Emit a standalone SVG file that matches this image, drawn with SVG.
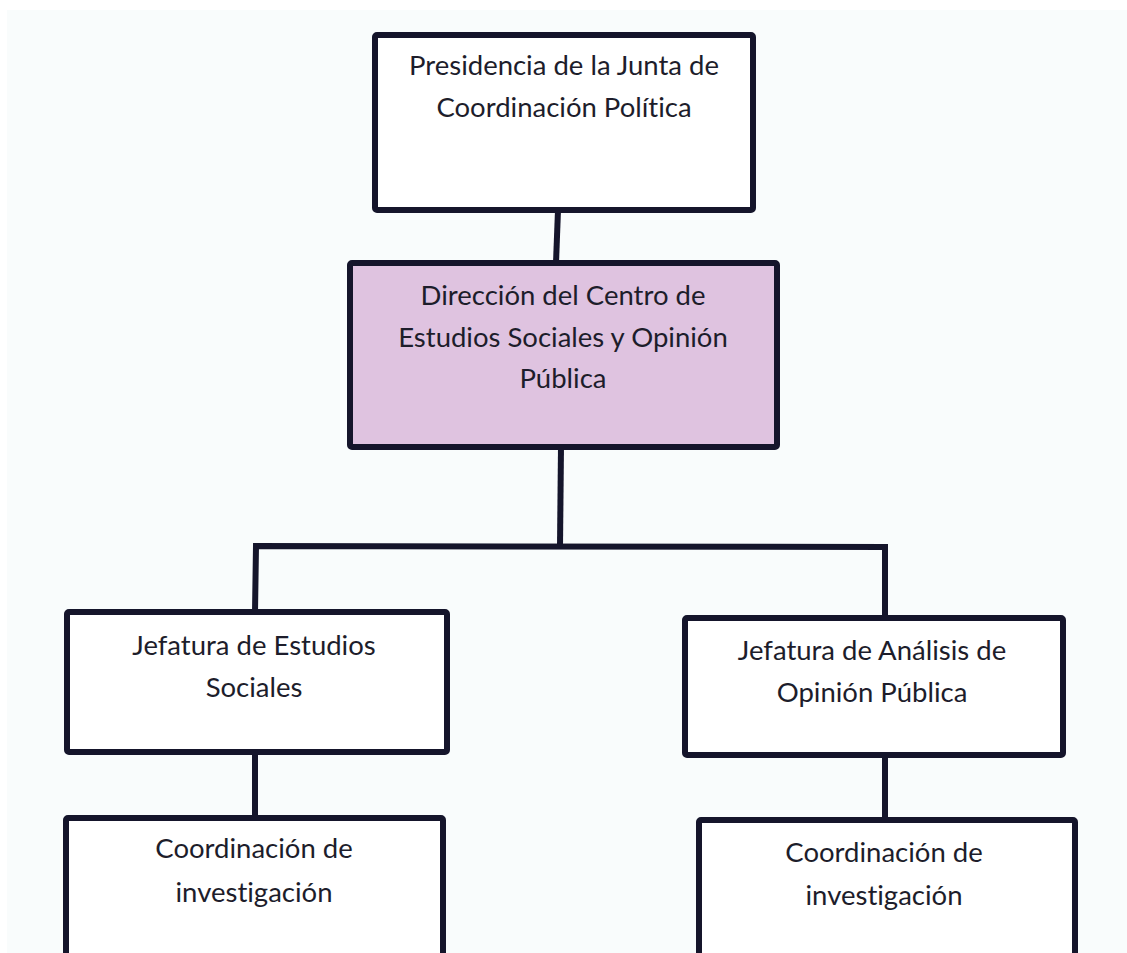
<svg xmlns="http://www.w3.org/2000/svg" width="1127" height="953" viewBox="0 0 1127 953">
<style>
.box{fill:#ffffff;stroke:#15152b;stroke-width:6;stroke-linejoin:round}
.pink{fill:#dfc3e0}
.lbl{font-family:Lato,"Open Sans","Liberation Sans",sans-serif;font-size:27.5px;fill:#1d1d2b;text-anchor:middle;font-variant-ligatures:none}
.con{fill:none;stroke:#15152b;stroke-width:6;stroke-linejoin:miter;stroke-linecap:butt}
</style>
<rect x="0" y="0" width="1127" height="953" fill="#ffffff"/>
<rect x="7" y="10" width="1120" height="943" fill="#f9fcfc"/>
<g id="connectors">
<path class="con" d="M558 210 L556 263"/>
<path class="con" d="M561 447 L560 546"/>
<path class="con" d="M255 612 L256 546 L885 547 L885 618"/>
<path class="con" d="M255 752 L255 818"/>
<path class="con" d="M885 755 L885 820"/>
</g>
<g id="n1">
<rect class="box" x="375" y="35" width="378" height="175" rx="2"/>
<text class="lbl" x="564" y="75">Presidencia de la Junta de</text>
<text class="lbl" x="564" y="117">Coordinación Política</text>
</g>
<g id="n2">
<rect class="box pink" x="350" y="263" width="427" height="184" rx="2"/>
<text class="lbl" x="563" y="305">Dirección del Centro de</text>
<text class="lbl" x="563" y="347">Estudios Sociales y Opinión</text>
<text class="lbl" x="563" y="388">Pública</text>
</g>
<g id="n3">
<rect class="box" x="67" y="612" width="380" height="140" rx="2"/>
<text class="lbl" x="254" y="655">Jefatura de Estudios</text>
<text class="lbl" x="254" y="697">Sociales</text>
</g>
<g id="n4">
<rect class="box" x="685" y="618" width="378" height="137" rx="2"/>
<text class="lbl" x="872" y="660">Jefatura de Análisis de</text>
<text class="lbl" x="872" y="702">Opinión Pública</text>
</g>
<g id="n5">
<rect class="box" x="66" y="818" width="377" height="160" rx="2"/>
<text class="lbl" x="254" y="858">Coordinación de</text>
<text class="lbl" x="254" y="902">investigación</text>
</g>
<g id="n6">
<rect class="box" x="699" y="820" width="376" height="160" rx="2"/>
<text class="lbl" x="884" y="862">Coordinación de</text>
<text class="lbl" x="884" y="905">investigación</text>
</g>
</svg>
